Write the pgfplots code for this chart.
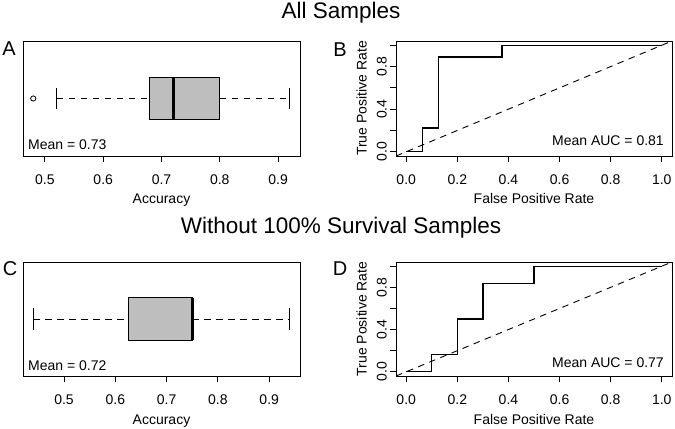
\documentclass[border=0pt]{standalone}
\usepackage{fontspec}
\setmainfont{Liberation Sans}
\usepackage{pgfplots}
\pgfplotsset{compat=1.18}
\definecolor{boxgray}{HTML}{BEBEBE}
\begin{document}
\begin{tikzpicture}
\useasboundingbox (0bp,0bp) rectangle (675bp,429bp);
\pgfplotsset{
  every axis/.append style={
    scale only axis,
    anchor=south west,
    axis line style={line width=0.9bp},
    tick style={line width=0.9bp, black},
    tick align=outside,
    major tick length=6bp,
    xtick pos=bottom, ytick pos=left,
    font=\fontsize{14bp}{16bp}\selectfont,
    /pgf/number format/assume math mode=true,
    xticklabel style={yshift=-9bp},
    xlabel style={at={(axis description cs:0.5,0)}, anchor=base, yshift=-48bp},
  },
  dashpat/.style={line width=0.9bp, dash pattern=on 6.5bp off 5.5bp},
  boxax/.style={width=277bp, ymin=0.46, ymax=1.54, ytick=\empty,
    xtick={0.5,0.6,0.7,0.8,0.9}, xticklabels={0.5,0.6,0.7,0.8,0.9},
    xlabel={Accuracy}},
  rocax/.style={width=276bp, xmin=-0.04, xmax=1.04, ymin=-0.04, ymax=1.04,
    xtick={0,0.2,0.4,0.6,0.8,1}, xticklabels={0.0,0.2,0.4,0.6,0.8,1.0},
    ytick={0,0.2,0.4,0.6,0.8,1}, yticklabels={0.0,,0.4,,0.8,},
    yticklabel style={rotate=90, anchor=base, yshift=3.3bp},
    xlabel={False Positive Rate}, ylabel={True Positive Rate},
    ylabel style={at={(axis description cs:0,0.5)}, anchor=base, yshift=29.5bp}},
}
% titles and panel letters
\node[anchor=base, font=\fontsize{22.5bp}{25bp}\selectfont] at (341bp,410.7bp) {All Samples};
\node[anchor=base, font=\fontsize{22.5bp}{25bp}\selectfont] at (341bp,195.7bp) {Without 100\% Survival Samples};
\node[anchor=base, font=\fontsize{20bp}{22bp}\selectfont] at (9bp,373bp) {A};
\node[anchor=base, font=\fontsize{20bp}{22bp}\selectfont] at (340bp,372.3bp) {B};
\node[anchor=base, font=\fontsize{20bp}{22bp}\selectfont] at (10bp,153bp) {C};
\node[anchor=base, font=\fontsize{20bp}{22bp}\selectfont] at (340bp,153bp) {D};

% Panel A
\begin{axis}[boxax, at={(23bp,273bp)}, height=115bp, xmin=0.4624, xmax=0.9376]
\addplot[dashpat] coordinates {(0.52,1) (0.68,1)};
\addplot[dashpat] coordinates {(0.80,1) (0.92,1)};
\addplot[line width=0.9bp] coordinates {(0.52,0.9) (0.52,1.1)};
\addplot[line width=0.9bp] coordinates {(0.92,0.9) (0.92,1.1)};
\addplot[fill=boxgray, draw=black, line width=0.9bp] coordinates {(0.68,0.8) (0.80,0.8) (0.80,1.2) (0.68,1.2) (0.68,0.8)};
\addplot[line width=3bp] coordinates {(0.72,0.8) (0.72,1.2)};
\addplot[only marks, mark=o, mark size=2.6bp, mark options={line width=0.8bp}] coordinates {(0.48,1)};
\node[anchor=base west, inner sep=0pt, xshift=5bp, yshift=6.7bp] at (rel axis cs:0,0) {Mean = 0.73};
\end{axis}

% Panel B
\begin{axis}[rocax, at={(396bp,273bp)}, height=115bp]
\addplot[dashpat] coordinates {(-0.04,-0.04) (1.04,1.04)};
\addplot[line width=1.3bp] coordinates {(0,0) (0.0625,0) (0.0625,0.2222) (0.125,0.2222) (0.125,0.8889) (0.375,0.8889) (0.375,1) (1,1)};
\node[anchor=base east, inner sep=0pt, xshift=-8bp, yshift=10bp] at (rel axis cs:1,0) {Mean AUC = 0.81};
\end{axis}

% Panel C
\begin{axis}[boxax, at={(23bp,53bp)}, height=114bp, xmin=0.42, xmax=0.96]
\addplot[dashpat] coordinates {(0.44,1) (0.625,1)};
\addplot[dashpat] coordinates {(0.75,1) (0.94,1)};
\addplot[line width=0.9bp] coordinates {(0.44,0.9) (0.44,1.1)};
\addplot[line width=0.9bp] coordinates {(0.94,0.9) (0.94,1.1)};
\addplot[fill=boxgray, draw=black, line width=0.9bp] coordinates {(0.625,0.8) (0.75,0.8) (0.75,1.2) (0.625,1.2) (0.625,0.8)};
\addplot[line width=3bp] coordinates {(0.75,0.8) (0.75,1.2)};
\node[anchor=base west, inner sep=0pt, xshift=5bp, yshift=6bp] at (rel axis cs:0,0) {Mean = 0.72};
\end{axis}

% Panel D
\begin{axis}[rocax, at={(396bp,53bp)}, height=114bp]
\addplot[dashpat] coordinates {(-0.04,-0.04) (1.04,1.04)};
\addplot[line width=1.3bp] coordinates {(0,0) (0.1,0) (0.1,0.1667) (0.2,0.1667) (0.2,0.5) (0.3,0.5) (0.3,0.8333) (0.5,0.8333) (0.5,1) (1,1)};
\node[anchor=base east, inner sep=0pt, xshift=-8bp, yshift=9bp] at (rel axis cs:1,0) {Mean AUC = 0.77};
\end{axis}
\end{tikzpicture}
\end{document}
